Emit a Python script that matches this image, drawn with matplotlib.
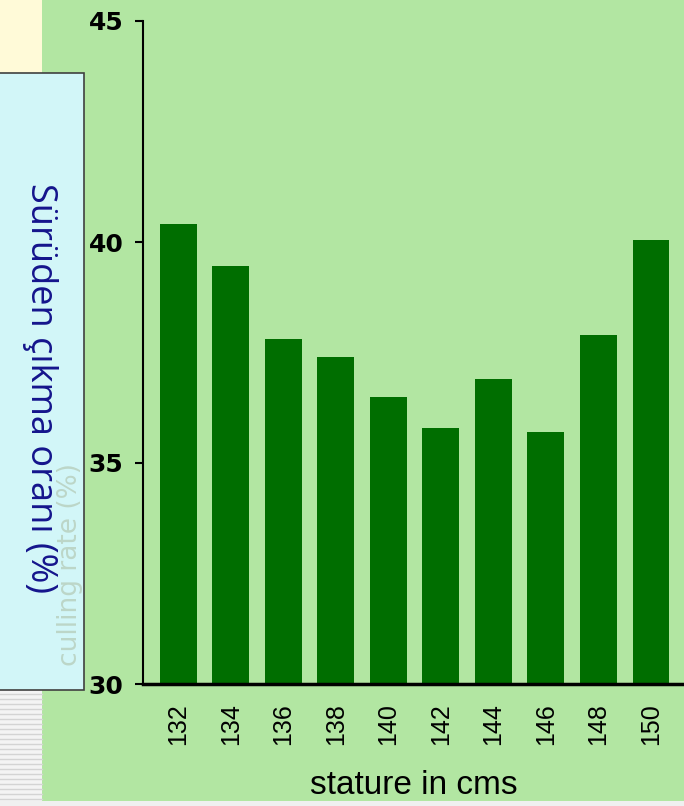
import matplotlib
matplotlib.use("Agg")
import matplotlib.pyplot as plt
from matplotlib.patches import Rectangle

# data
STATURE = [132, 134, 136, 138, 140, 142, 144, 146, 148, 150]
CULL_RATE = [40.4, 39.45, 37.8, 37.4, 36.5, 35.8, 36.9, 35.7, 37.9, 40.05]
Y_TICKS = [30, 35, 40, 45]

BG_GREEN = "#b2e6a2"
BAR_GREEN = "#006e00"

W, H = 684, 806
fig = plt.figure(figsize=(W / 100, H / 100), dpi=100)
fig.patch.set_facecolor(BG_GREEN)


def fig_rect(x0, y0, x1, y1, **kw):
    """Add a rectangle given in pixel coords (top-left origin)."""
    r = Rectangle((x0 / W, 1 - y1 / H), (x1 - x0) / W, (y1 - y0) / H,
                  transform=fig.transFigure, **kw)
    fig.add_artist(r)
    return r


# slide decorations on the left
fig_rect(0, 0, 42, 73, facecolor="#fffad8", edgecolor="none")
fig_rect(0, 690, 42, 806, facecolor="#f4f4f4", edgecolor="none")
for yy in range(694, 800, 5):
    fig.add_artist(plt.Line2D([0, 42 / W], [1 - yy / H] * 2,
                              transform=fig.transFigure, color="#d4d4d4", lw=1))

ax = fig.add_axes([143 / W, 1 - 684 / H, 1 - 143 / W, (684 - 21) / H])
ax.set_facecolor("none")
x = list(range(len(STATURE)))
ax.bar(x, CULL_RATE, width=0.7, color=BAR_GREEN, zorder=2)

ax.set_ylim(30, 45)
ax.set_xlim(-0.67, 9.63)
ax.set_yticks(Y_TICKS)
ax.set_yticklabels([str(t) for t in Y_TICKS], fontsize=18, fontweight="bold")
ax.set_xticks(x)
ax.set_xticklabels([str(s) for s in STATURE], rotation=90, fontsize=18,
                   family="Liberation Sans")
ax.tick_params(axis="x", length=0, pad=14)
ax.tick_params(axis="y", length=6, width=1.5, pad=8)
for side in ["top", "right"]:
    ax.spines[side].set_visible(False)
ax.spines["left"].set_linewidth(1.5)
ax.spines["bottom"].set_linewidth(2.5)
ax.set_xlabel("stature in cms", fontsize=24, family="Liberation Sans",
              labelpad=18)

# bottom frame strip of the slide
fig_rect(0, 801, W, 806, facecolor="#f0f0f0", edgecolor="none", zorder=10)

# label box overlay
fig_rect(-2, 73, 84, 690, facecolor="#d2f6f8", edgecolor="#404040",
         lw=1.2, zorder=5)
fig.text(70 / W, 1 - 565 / H, "culling rate (%)", rotation=90,
         fontsize=19, color="#bcd6c8", ha="center", va="center", zorder=6)
fig.text(40 / W, 1 - 388 / H, "Sürüden çıkma oranı (%)", rotation=270,
         fontsize=26, color="#14148c", ha="center", va="center", zorder=7,
         family="Open Sans")

fig.savefig("out.png", dpi=100, facecolor=fig.get_facecolor())
